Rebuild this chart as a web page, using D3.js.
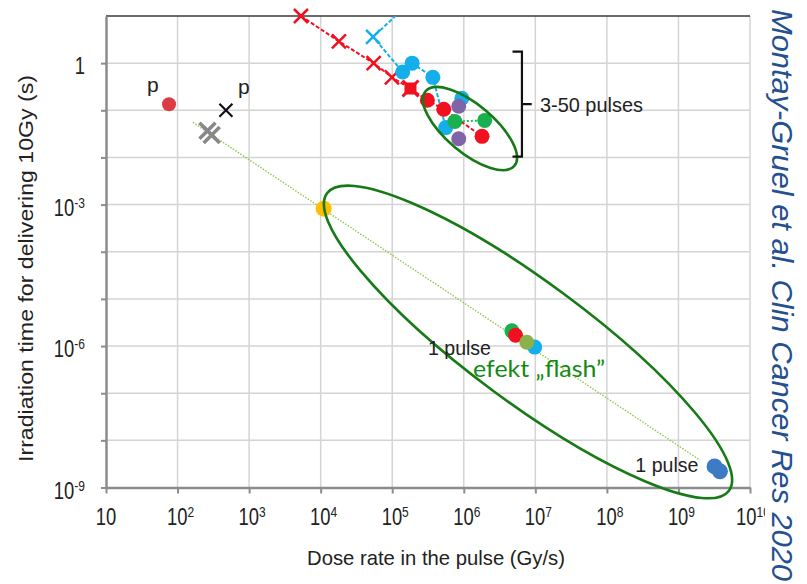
<!DOCTYPE html>
<html>
<head>
<meta charset="utf-8">
<script src="https://cdn.jsdelivr.net/npm/d3@7"></script>
<style>
  body { margin: 0; background: #fff; }
  svg text { font-family: "Liberation Sans Narrow", "Arial Narrow", "Liberation Sans", Arial, sans-serif; }
</style>
</head>
<body>
<div id="chart"></div>
<script>
// ticks
const xTickValues = [1e1, 1e2, 1e3, 1e4, 1e5, 1e6, 1e7, 1e8, 1e9, 1e10];
const xTickExp = ["", "2", "3", "4", "5", "6", "7", "8", "9", "10"];
const yTickValues = [1e-9, 1e-6, 1e-3, 1];
const yTickBase = ["10", "10", "10", "1"];
const yTickExp = ["-9", "-6", "-3", ""];
const yGridValues = [1e-8, 1e-7, 1e-6, 1e-5, 1e-4, 1e-3, 1e-2, 1e-1, 1];

// series, 3-50 pulses
const redCrossX = [5.3e3, 1.8e4, 5.5e4, 9.9e4];
const redCrossY = [10, 2.9, 1.0, 0.50];
const redSquareX = [1.8e5];
const redSquareY = [0.29];
const redCircleX = [3.1e5, 5.25e5, 1.8e6];
const redCircleY = [0.163, 0.105, 0.028];
const cyanCrossX = [5.4e4];
const cyanCrossY = [3.6];
const cyanLineX = [2.3e5, 5.4e4, 1.4e5, 1.9e5, 3.7e5, 5.6e5];
const cyanLineY = [28, 3.6, 0.65, 1.0, 0.50, 0.043];
const blueX = [1.4e5, 1.9e5, 3.7e5, 9.4e5, 5.6e5];
const blueY = [0.65, 1.0, 0.50, 0.18, 0.043];
const purpleX = [8.5e5, 8.5e5];
const purpleY = [0.122, 0.025];
const greenX = [7.5e5, 1.96e6];
const greenY = [0.058, 0.061];

// protons (p) and others
const pCircleX = [76];
const pCircleY = [0.134];
const pCrossX = [474];
const pCrossY = [0.1];
const grayCrossX = [262, 300];
const grayCrossY = [0.037, 0.030];
const yellowX = [1.1e4];
const yellowY = [8.2e-4];

// single pulse
const trendX = [164, 2.0e9];
const trendY = [0.0556, 3.8e-9];
const midBlueX = [9.8e6], midBlueY = [9.5e-7];
const midGreenX = [4.7e6], midGreenY = [2.1e-6];
const midRedX = [5.3e6], midRedY = [1.7e-6];
const midLightX = [7.6e6], midLightY = [1.2e-6];
const bottomBlueX = [3.2e9, 3.8e9];
const bottomBlueY = [2.8e-9, 2.2e-9];

const width = 807;
const height = 584;

const svg = d3.select("#chart")
    .append("svg")
    .attr("width", width)
    .attr("height", height);

const x = d3.scaleLog().domain([1e1, 1e10]).range([106, 750]);
const y = d3.scaleLog().domain([1e-9, 1e1]).range([487.5, 16]);

svg.append("clipPath").attr("id", "plot-clip")
    .append("rect")
    .attr("x", 106).attr("y", 16)
    .attr("width", 644).attr("height", 471.5);

// grid
svg.append("g")
    .selectAll("line")
    .data(xTickValues.slice(1))
    .enter()
    .append("line")
    .attr("x1", d => x(d)).attr("x2", d => x(d))
    .attr("y1", y(1e1)).attr("y2", y(1e-9))
    .attr("stroke", "#d4d4d4")
    .attr("stroke-width", 1.5);

svg.append("g")
    .selectAll("line")
    .data(yGridValues)
    .enter()
    .append("line")
    .attr("x1", x(1e1)).attr("x2", x(1e10))
    .attr("y1", d => y(d)).attr("y2", d => y(d))
    .attr("stroke", "#d4d4d4")
    .attr("stroke-width", 1.5);

// top line
svg.append("line")
    .attr("x1", x(1e1)).attr("x2", x(1e10))
    .attr("y1", y(1e1)).attr("y2", y(1e1))
    .attr("stroke", "#3a3a3a")
    .attr("stroke-width", 1.5);

// axes
const xAxis = svg.append("g")
    .attr("transform", `translate(0,${y(1e-9)})`)
    .call(d3.axisBottom(x).tickValues(xTickValues).tickFormat("").tickSize(6).tickSizeOuter(0));

const yAxis = svg.append("g")
    .attr("transform", `translate(${x(1e1)},0)`)
    .call(d3.axisLeft(y).tickValues([1e-9, 1e-8, 1e-7, 1e-6, 1e-5, 1e-4, 1e-3, 1e-2, 1e-1, 1]).tickFormat("").tickSize(5).tickSizeOuter(0));

[xAxis, yAxis].forEach(a => {
    a.select(".domain").attr("stroke", "#8c8c8c").attr("stroke-width", 2.5);
    a.selectAll(".tick line").attr("stroke", "#8c8c8c").attr("stroke-width", 2);
});

// x tick labels (narrowed like the original)
const xLabels = svg.append("g")
    .selectAll("text")
    .data(xTickValues)
    .enter()
    .append("text")
    .attr("transform", (d, i) => `translate(${x(d) + (xTickExp[i] ? 3 : 0)},525) scale(0.8,1)`)
    .attr("text-anchor", "middle")
    .attr("font-size", "23px")
    .attr("fill", "#222");
xLabels.append("tspan").text("10");
xLabels.append("tspan")
    .attr("dy", -8)
    .attr("font-size", "15px")
    .text((d, i) => xTickExp[i]);

// y tick labels
const yLabels = svg.append("g")
    .selectAll("text")
    .data(yTickValues)
    .enter()
    .append("text")
    .attr("transform", d => `translate(85,${y(d) + 11}) scale(0.8,1)`)
    .attr("text-anchor", "end")
    .attr("font-size", "23px")
    .attr("fill", "#222");
yLabels.append("tspan").text((d, i) => yTickBase[i]);
yLabels.append("tspan")
    .attr("dy", -8)
    .attr("font-size", "15px")
    .text((d, i) => yTickExp[i]);

// axis titles
svg.append("text")
    .attr("x", 307)
    .attr("y", 565)
    .attr("font-size", "21px")
    .attr("fill", "#222")
    .attr("textLength", 258)
    .attr("lengthAdjust", "spacingAndGlyphs")
    .text("Dose rate in the pulse (Gy/s)");

svg.append("text")
    .attr("transform", "translate(33,462) rotate(-90)")
    .attr("font-size", "21px")
    .attr("fill", "#222")
    .attr("textLength", 387)
    .attr("lengthAdjust", "spacingAndGlyphs")
    .text("Irradiation time for delivering 10Gy (s)");

// helpers
function drawLine(xs, ys, color, dash, w) {
    const pts = xs.map((d, i) => [x(d), y(ys[i])]);
    svg.append("path")
        .attr("d", d3.line()(pts))
        .attr("fill", "none")
        .attr("stroke", color)
        .attr("stroke-width", w)
        .attr("stroke-dasharray", dash)
        .attr("clip-path", "url(#plot-clip)");
}

function drawCircles(xs, ys, color, r) {
    svg.append("g")
        .selectAll("circle")
        .data(xs)
        .enter()
        .append("circle")
        .attr("cx", d => x(d))
        .attr("cy", (d, i) => y(ys[i]))
        .attr("r", r)
        .attr("fill", color);
}

function drawCrosses(xs, ys, color, s, w) {
    svg.append("g")
        .selectAll("path")
        .data(xs)
        .enter()
        .append("path")
        .attr("d", (d, i) => {
            const cx = x(d), cy = y(ys[i]);
            return `M${cx - s},${cy - s}L${cx + s},${cy + s}M${cx - s},${cy + s}L${cx + s},${cy - s}`;
        })
        .attr("stroke", color)
        .attr("stroke-width", w)
        .attr("fill", "none");
}

// lines
drawLine(trendX, trendY, "#92c84a", "1.5,1.5", 1.4);
drawLine(redCrossX.concat(redSquareX, redCircleX), redCrossY.concat(redSquareY, redCircleY), "#f01020", "4,2", 2);
drawLine(cyanLineX, cyanLineY, "#14aeea", "4,2", 2);
drawLine(greenX, greenY, "#22b85a", "2,2", 2);

// markers 3-50 pulses
drawCrosses(redCrossX, redCrossY, "#f01020", 7, 2.5);
drawCrosses(cyanCrossX, cyanCrossY, "#14aeea", 7, 2.5);
drawCircles(blueX, blueY, "#14aeea", 7.5);
svg.append("rect")
    .attr("x", x(redSquareX[0]) - 6)
    .attr("y", y(redSquareY[0]) - 6)
    .attr("width", 12).attr("height", 12)
    .attr("fill", "#f01020");
drawCrosses(redSquareX, redSquareY, "#f01020", 8, 3);
drawCircles(redCircleX, redCircleY, "#f01020", 7.5);
drawCircles(purpleX, purpleY, "#8064a8", 7.5);
drawCircles(greenX, greenY, "#19b050", 7.5);

// protons and others
drawCircles(pCircleX, pCircleY, "#dc3c44", 7);
drawCrosses(pCrossX, pCrossY, "#111", 6.5, 2.2);
drawCrosses(grayCrossX, grayCrossY, "#888", 8, 3.5);
drawCircles(yellowX, yellowY, "#ffbf00", 8);

// single pulse
drawCircles(midBlueX, midBlueY, "#14aeea", 7.5);
drawCircles(midGreenX, midGreenY, "#19b050", 7.5);
drawCircles(midRedX, midRedY, "#f01020", 7.5);
drawCircles(midLightX, midLightY, "#8ab14a", 7.5);
drawCircles(bottomBlueX, bottomBlueY, "#3d7cc4", 8);

// ellipses
function drawEllipse(cxVal, cyVal, rx, ry, angle) {
    svg.append("ellipse")
        .attr("transform", `translate(${x(cxVal)},${y(cyVal)}) rotate(${angle})`)
        .attr("rx", rx)
        .attr("ry", ry)
        .attr("fill", "none")
        .attr("stroke", "#167a16")
        .attr("stroke-width", 2.6);
}
drawEllipse(1.22e6, 0.041, 58, 24, 40);
drawEllipse(7.9e6, 1.22e-6, 250, 60, 36.5);

// bracket
const brX = 6.5e6, brLeft = 4.8e6, brTip = 8.9e6, brTop = 1.75, brBottom = 0.0104;
const brMid = Math.sqrt(brTop * brBottom);
svg.append("path")
    .attr("d", `M${x(brLeft)},${y(brTop)}H${x(brX)}V${y(brBottom)}H${x(brLeft)}M${x(brX)},${y(brMid)}H${x(brTip)}`)
    .attr("fill", "none")
    .attr("stroke", "#111")
    .attr("stroke-width", 2.2);

// labels
function label(txt, xv, yv, color, size, len, anchor, family) {
    const t = svg.append("text")
        .attr("x", x(xv))
        .attr("y", y(yv))
        .attr("fill", color)
        .attr("font-size", size)
        .attr("text-anchor", anchor || "start")
        .text(txt);
    if (len) t.attr("textLength", len).attr("lengthAdjust", "spacingAndGlyphs");
    if (family) t.style("font-family", family);
}
label("p", 45, 0.244, "#222", "21px", null, "middle");
label("p", 700, 0.22, "#222", "21px");
label("3-50 pulses", 1.16e7, 0.093, "#222", "21px", 103);
label("1 pulse", 3.16e5, 6.5e-7, "#222", "21px", 63);
label("efekt \u201eflash\u201d", 1.35e6, 2.2e-7, "#138a13", "23px", 132, "start", "Lato, 'Open Sans', sans-serif");
label("1 pulse", 2.5e8, 2.1e-9, "#222", "21px", 63);

// source, on a white strip like the pasted image
svg.append("rect")
    .attr("x", 765).attr("y", 0)
    .attr("width", width - 765).attr("height", height)
    .attr("fill", "#fff");

svg.append("text")
    .attr("transform", "translate(772,9) rotate(90)")
    .attr("font-size", "29px")
    .attr("font-style", "italic")
    .attr("fill", "#24508f")
    .attr("textLength", 572)
    .attr("lengthAdjust", "spacingAndGlyphs")
    .style("font-family", "'Liberation Sans', Arial, sans-serif")
    .text("Montay-Gruel et al. Clin Cancer Res 2020");
</script>
</body>
</html>
